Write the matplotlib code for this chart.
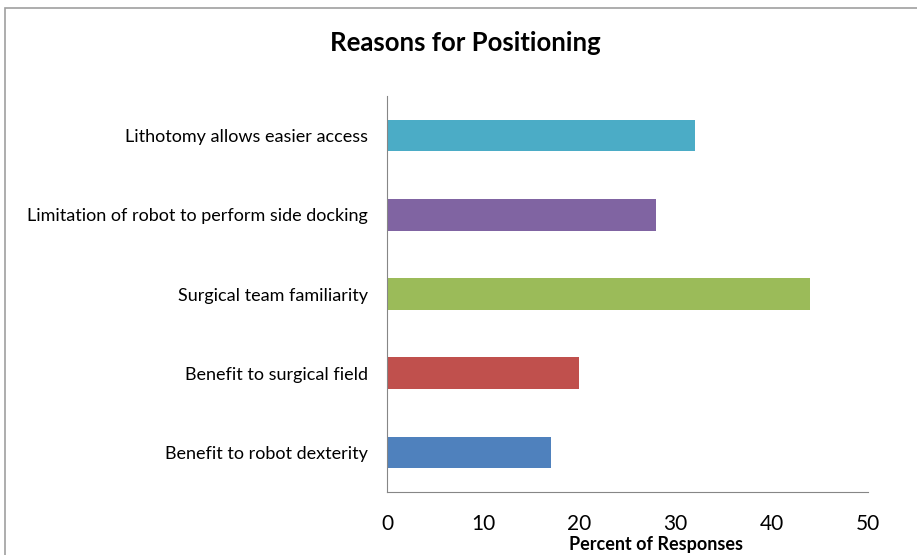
import matplotlib.pyplot as plt
from matplotlib.patches import Rectangle

plt.rcParams['font.family'] = ['Lato', 'DejaVu Sans']

# data, bottom to top
reasons = [
    "Benefit to robot dexterity",
    "Benefit to surgical field",
    "Surgical team familiarity",
    "Limitation of robot to perform side docking",
    "Lithotomy allows easier access",
]
percent = [17, 20, 44, 28, 32]
colors = ['#4F81BD', '#C0504D', '#9BBB59', '#8064A2', '#4BACC6']

fig = plt.figure(figsize=(9.17, 5.55), dpi=100)
ax = fig.add_axes([0.422, 0.1135, 0.5246, 0.7135])

ax.barh(range(len(reasons)), percent, height=0.4, color=colors)
ax.set_yticks(range(len(reasons)))
ax.set_yticklabels(reasons, fontsize=13)
ax.set_ylim(-0.5, len(reasons) - 0.5)
ax.set_xlim(0, 50)
ax.set_xticks([0, 10, 20, 30, 40, 50])
ax.tick_params(axis='x', length=0, labelsize=15, pad=16)
ax.tick_params(axis='y', length=0, pad=14)
for s in ['top', 'right']:
    ax.spines[s].set_visible(False)
for s in ['left', 'bottom']:
    ax.spines[s].set_color('#868686')
ax.set_xlabel('Percent of Responses', fontsize=13, fontweight='bold')
ax.xaxis.set_label_coords(0.559, -0.133)
ax.xaxis.label.set_va('center')

fig.text(0.508, 0.922, 'Reasons for Positioning', ha='center', va='center',
         fontsize=18.5, fontweight='bold')

# chart border
fig.patches.append(Rectangle((5 / 917, -0.1), 1.2, 1.085, transform=fig.transFigure,
                             fill=False, edgecolor='#A0A0A0', linewidth=1.2))

fig.savefig('out.png', dpi=100)
